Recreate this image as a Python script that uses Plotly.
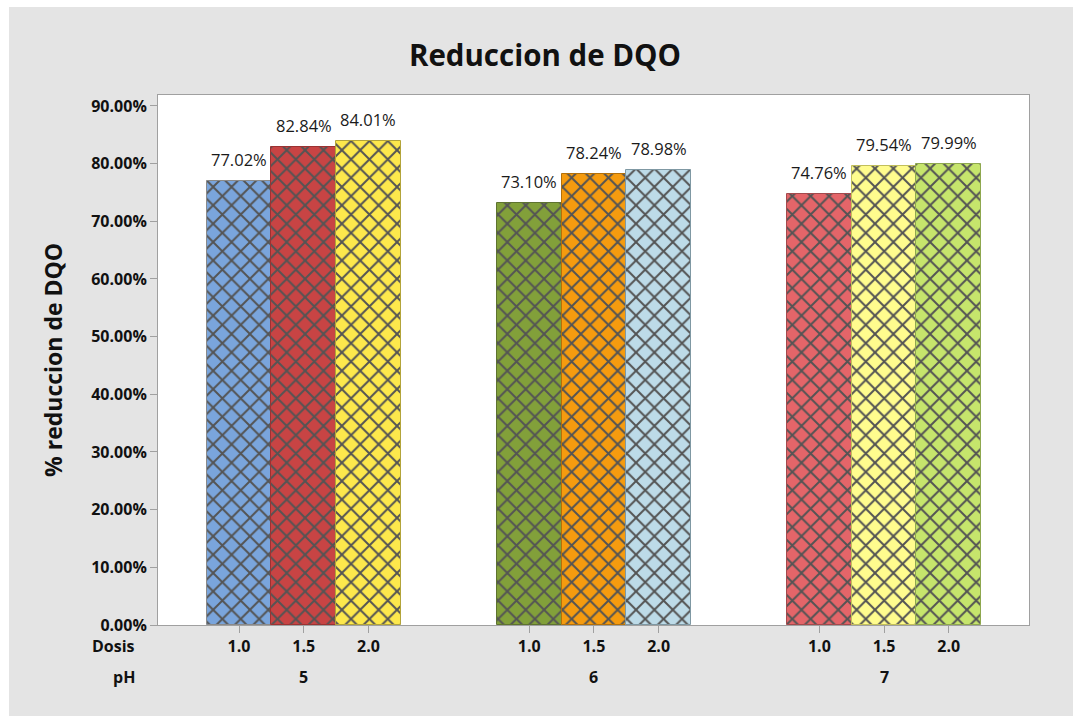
import plotly.graph_objects as go

# Data: % reduction of COD (DQO) by pH and coagulant dose
ph_levels = ["5", "6", "7"]
doses = ["1.0", "1.5", "2.0"]
reduction = [
    [77.02, 82.84, 84.01],  # pH 5
    [73.10, 78.24, 78.98],  # pH 6
    [74.76, 79.54, 79.99],  # pH 7
]
bar_colors = [
    ["#7aa5dc", "#c84444", "#fde84c"],
    ["#82a03a", "#f59b0f", "#bddbe8"],
    ["#e46569", "#fffc8e", "#c6e56c"],
]
edge_colors = [
    ["#8a8a8a", "#9b3232", "#b3a43a"],
    ["#5e7330", "#b3700a", "#7f98a3"],
    ["#a44a4d", "#c2bf5c", "#8fa84f"],
]

GROUP_GAP = 4.485  # distance between pH group centres, in bar widths
FONT = "Open Sans"

fig = go.Figure()
xs_all, labels_all = [], []
for gi, ph in enumerate(ph_levels):
    for di, dose in enumerate(doses):
        x = gi * GROUP_GAP + (di - 1)
        val = reduction[gi][di]
        xs_all.append(x)
        labels_all.append(dose)
        fig.add_trace(go.Bar(
            x=[x], y=[val], width=1.0,
            marker=dict(
                color=bar_colors[gi][di],
                line=dict(color=edge_colors[gi][di], width=1),
                pattern=dict(shape="x", fillmode="overlay", fgcolor="#545454",
                             fgopacity=1, size=13, solidity=0.28),
            ),
            showlegend=False, hoverinfo="skip",
        ))
        fig.add_annotation(
            x=x, y=val, text=f"{val:.2f}%", showarrow=False,
            yanchor="bottom", yshift=8,
            font=dict(family=FONT, size=16.5, color="#1a1a1a"),
        )
    # pH group label under the dose labels
    fig.add_annotation(
        x=gi * GROUP_GAP, xref="x", y=-0.098, yref="paper",
        text=f"<b>{ph}</b>", showarrow=False, yanchor="middle",
        font=dict(family=FONT, size=16, color="#111111"),
    )

for txt, ypos in (("Dosis", -0.040), ("pH", -0.098)):
    fig.add_annotation(
        x=(137 - 158) / 871, xref="paper", y=ypos, yref="paper",
        text=f"<b>{txt}</b>", showarrow=False, xanchor="right", yanchor="middle",
        font=dict(family=FONT, size=16, color="#111111"),
    )

# y-axis title
fig.add_annotation(
    x=(53 - 158) / 871, xref="paper", y=0.5, yref="paper",
    text="<b>% reduccion de DQO</b>", textangle=-90, showarrow=False,
    xanchor="center", yanchor="middle",
    font=dict(family=FONT, size=23, color="#111111"),
)

# thin white strips at the top and left of the grey background
fig.add_shape(type="rect", xref="paper", yref="paper",
              x0=-0.25, x1=1.1, y0=(625 - 7) / 530, y1=1.25,
              fillcolor="white", line=dict(width=0), layer="below")
fig.add_shape(type="rect", xref="paper", yref="paper",
              x0=-0.25, x1=(9 - 158) / 871, y0=-0.25, y1=1.25,
              fillcolor="white", line=dict(width=0), layer="below")

fig.update_layout(
    width=1073, height=716,
    margin=dict(l=158, r=44, t=95, b=91),
    paper_bgcolor="#e4e4e4", plot_bgcolor="white",
    title=dict(text="<b>Reduccion de DQO</b>", x=545 / 1073, xref="container",
               xanchor="center", y=1 - 56 / 716, yref="container", yanchor="middle",
               font=dict(family=FONT, size=29.5, color="#111111")),
    bargap=0,
    font=dict(family=FONT, color="#111111"),
)
fig.update_xaxes(
    range=[-2.252, 11.21], tickvals=xs_all, ticktext=[f"<b>{t}</b>" for t in labels_all],
    ticks="outside", ticklen=7, tickcolor="#a0a0a0",
    tickfont=dict(family=FONT, size=16, color="#111111"),
    showline=True, linecolor="#a0a0a0", linewidth=1, mirror=True,
    showgrid=False, zeroline=False,
)
fig.update_yaxes(
    range=[0, 91.9], tickvals=list(range(0, 91, 10)),
    ticktext=[f"<b>{v:.2f}%</b>" for v in range(0, 91, 10)],
    ticks="outside", ticklen=7, tickcolor="#a0a0a0",
    tickfont=dict(family=FONT, size=16, color="#111111"),
    showline=True, linecolor="#a0a0a0", linewidth=1, mirror=True,
    showgrid=False, zeroline=False,
)

fig.write_html("out.html")
